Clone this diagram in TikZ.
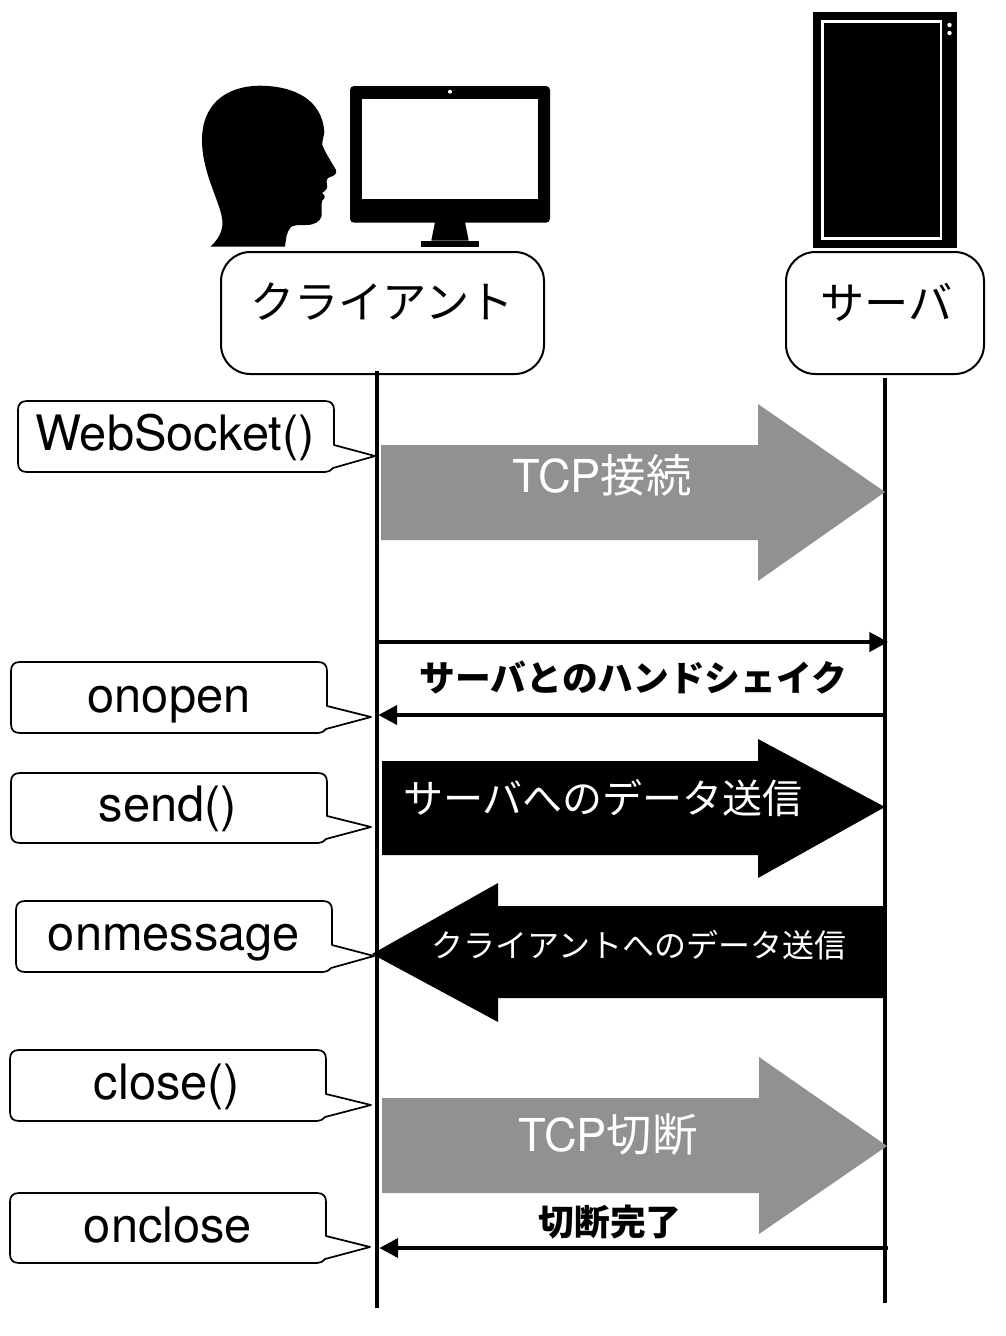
\documentclass[tikz,border=0pt]{standalone}
\usepackage{fontspec}
\setmainfont{TeX Gyre Heros}
\newfontfamily\cjk{Noto Sans CJK JP}
\usetikzlibrary{arrows.meta}
\definecolor{blockgray}{HTML}{919191}
\tikzset{
  x=0.75pt,y=-0.75pt,
  actorbox/.style={draw=black,line width=1.5pt,rounded corners=22pt},
  lifeline/.style={draw=black,line width=2.7pt},
  message/.style={draw=black,line width=2.4pt,-{Triangle[length=14pt,width=14.5pt]}},
  calloutshape/.style={draw=black,fill=white,line width=1.3pt,line join=round},
  callouttext/.style={font=\fontsize{36.6}{36.6}\selectfont,inner sep=0pt,anchor=base},
  actortext/.style={font=\cjk\fontsize{33.2}{33.2}\selectfont,inner sep=0pt,anchor=center},
  graytext/.style={font=\fontsize{34}{34}\selectfont,text=white,inner sep=0pt,anchor=center},
  msgtext/.style={font=\cjk\bfseries\fontsize{26.8}{26.8}\selectfont,inner sep=0pt,anchor=center},
}
% #1 x1, #2 y1, #3 x2, #4 y2, #5 tip x, #6 node name, #7 text, #8 text x, #9 baseline y
\newcommand{\mycallout}[9]{%
  \path[calloutshape] (#1+9,#2) -- (#3-9,#2) .. controls (#3-3,#2) and (#3,#2+3) .. (#3,#2+9)
    -- (#3,#4-27) -- (#5,#4-16) -- (#3-1,#4-4) .. controls (#3-4,#4-1) and (#3-6,#4) .. (#3-9,#4)
    -- (#1+9,#4) .. controls (#1+3,#4) and (#1,#4-3) .. (#1,#4-9)
    -- (#1,#2+9) .. controls (#1,#2+3) and (#1+3,#2) .. (#1+9,#2) -- cycle;
  \node[callouttext] (#6) at (#8,#9) {#7};
}
\begin{document}
\begin{tikzpicture}
\useasboundingbox (0,0) rectangle (1006,1336);
\fill[white] (0,0) rectangle (1006,1336);

% head
\fill[black] (210.5,246.7) .. controls (222,236) and (223,226) .. (222.3,220)
  .. controls (221,208) and (212,190) .. (207,172)
  .. controls (203,158) and (202,148) .. (202,140)
  .. controls (202,105) and (225,86) .. (260,85.7)
  .. controls (295,86) and (322,100) .. (324.3,131.7)
  .. controls (324,137) and (322,140) .. (322.3,145)
  .. controls (326,154) and (332,163) .. (336,170)
  .. controls (337,174) and (334,176) .. (330,177)
  .. controls (327,178) and (326,180) .. (327,185)
  .. controls (328,189) and (325,191) .. (322,193)
  .. controls (327,196) and (324,199) .. (322,201)
  .. controls (321,205) and (322,210) .. (321.7,216)
  .. controls (320,222) and (314,225) .. (306,225)
  .. controls (298,225) and (294,225) .. (291,227)
  .. controls (286,232) and (286,240) .. (285,246.7) -- cycle;

% monitor
\fill[black,rounded corners=3pt] (350,86) rectangle (550,222.7);
\fill[white] (361.7,98.7) rectangle (538,199);
\fill[white] (450,91.7) circle (2);
\fill[black] (435,222) -- (465,222) -- (468.7,240.7) -- (431.3,240.7) -- cycle;
\fill[black] (421,240.7) rectangle (479,246.7);

% server
\fill[black] (813,12) rectangle (957,248);
\draw[white,line width=2.2pt] (822.5,21.5) rectangle (941,238.5);
\fill[white] (949.5,25) circle (2.2);
\fill[white] (949.5,33) circle (2.2);

% actors
\node[actorbox,minimum width=242.25pt,minimum height=91.5pt,inner sep=0pt] (client) at (382.5,313) {};
\node[actortext] (clienttext) at (382,302) {クライアント};
\node[actorbox,minimum width=148.5pt,minimum height=91.5pt,inner sep=0pt] (server) at (885,313) {};
\node[actortext] (servertext) at (886.5,302) {サーバ};

% lifelines
\coordinate (ctop) at (377,371);
\coordinate (cbot) at (377,1308);
\coordinate (stop) at (885,378);
\coordinate (sbot) at (885,1303);
\draw[lifeline] (ctop) -- (cbot);
\draw[lifeline] (stop) -- (sbot);

% block arrows
\fill[blockgray] (381,445) -- (758,445) -- (758,404) -- (885,492) -- (758,581) -- (758,540) -- (381,540) -- cycle;
\node[graytext] (tcpopen) at (602,475) {TCP{\cjk 接続}};
\fill[black] (382,761) -- (758,761) -- (758,739) -- (885,807) -- (758,878) -- (758,855) -- (382,855) -- cycle;
\node[font=\cjk\fontsize{30}{30}\selectfont,text=white,inner sep=0pt] (sendtext) at (603,798) {サーバへのデータ送信};
\fill[black] (885,906) -- (498,906) -- (498,883) -- (372,954) -- (498,1022) -- (498,998) -- (885,998) -- cycle;
\node[font=\cjk\fontsize{24}{24}\selectfont,text=white,inner sep=0pt] (rectext) at (639,945) {クライアントへのデータ送信};
\fill[blockgray] (382,1098) -- (759,1098) -- (759,1057) -- (887,1146) -- (759,1234) -- (759,1193) -- (382,1193) -- cycle;
\node[graytext] (tcpclose) at (608,1135) {TCP{\cjk 切断}};

% messages
\coordinate (m1a) at (378,642);
\coordinate (m1b) at (888,642);
\coordinate (m2a) at (885,715);
\coordinate (m2b) at (378.5,715);
\coordinate (m3a) at (888,1248);
\coordinate (m3b) at (379.5,1248);
\draw[message] (m1a) -- (m1b);
\draw[message] (m2a) -- (m2b);
\draw[message] (m3a) -- (m3b);
\node[msgtext] (hstext) at (633.5,678) {サーバとのハンドシェイク};
\node[msgtext] (cdtext) at (610,1222) {切断完了};

% callouts
\mycallout{18}{401}{334}{472}{375}{cwebsocket}{WebSocket()}{175}{450}
\mycallout{11}{662}{327}{733}{371}{conopen}{onopen}{169}{712}
\mycallout{11}{773}{327}{843}{371}{csend}{send()}{168}{821}
\mycallout{16}{901}{332}{972}{374}{conmessage}{onmessage}{174}{950}
\mycallout{10}{1050}{326}{1121}{371}{cclosecall}{close()}{167}{1099}
\mycallout{10}{1193}{326}{1263}{370}{conclose}{onclose}{168}{1242}
\end{tikzpicture}
\end{document}
